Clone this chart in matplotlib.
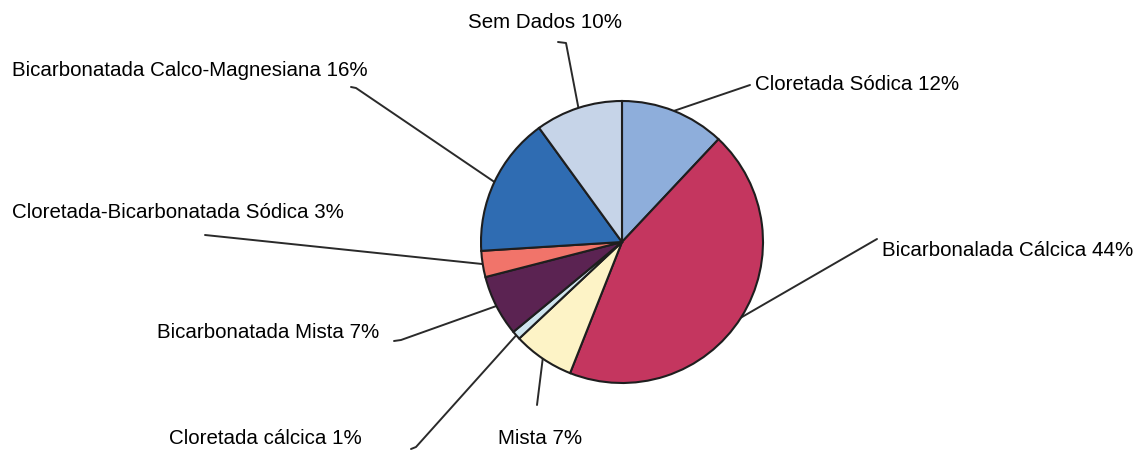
import numpy as np
import matplotlib.pyplot as plt

# water type shares (percent), clockwise from 12 o'clock
categories = [
    "Cloretada Sódica",
    "Bicarbonalada Cálcica",
    "Mista",
    "Cloretada cálcica",
    "Bicarbonatada Mista",
    "Cloretada-Bicarbonatada Sódica",
    "Bicarbonatada Calco-Magnesiana",
    "Sem Dados",
]
values = [12, 44, 7, 1, 7, 3, 16, 10]
colors = ["#8eaedb", "#c4365f", "#fdf3c6", "#cfe5ee",
          "#5b2352", "#f1746a", "#2f6cb2", "#c6d4e8"]

W, H = 1146, 451
CX, CY, R = 622, 242, 141

# label layout in pixel coords: text anchor, alignment, leader path end points
label_layout = [
    dict(xy=(755, 85), ha="left", path=[(750, 85)]),
    dict(xy=(882, 250), ha="left", path=[(877, 239)]),
    dict(xy=(540, 438), ha="center", path=[(537, 405)]),
    dict(xy=(265, 438), ha="center", path=[(416, 447), (411, 449)]),
    dict(xy=(379, 333), ha="right", path=[(401, 340), (394, 341)]),
    dict(xy=(12, 213), ha="left", path=[(205, 235)]),
    dict(xy=(12, 70), ha="left", path=[(356, 88), (351, 87)]),
    dict(xy=(545, 22), ha="center", path=[(566, 43), (558, 42)]),
]

plt.rcParams["font.family"] = ["Liberation Sans", "DejaVu Sans"]

fig = plt.figure(figsize=(W / 100, H / 100), dpi=100)
ax = fig.add_axes([0, 0, 1, 1])

wedges, _ = ax.pie(
    values,
    colors=colors,
    startangle=90,
    counterclock=False,
    center=(CX, H - CY),
    radius=R,
    wedgeprops=dict(edgecolor="#1e1e1e", linewidth=1.5),
)

for w, name, val, lay in zip(wedges, categories, values, label_layout):
    mid = np.deg2rad((w.theta1 + w.theta2) / 2)
    x0 = CX + R * np.cos(mid)
    y0 = (H - CY) + R * np.sin(mid)
    xs = [x0] + [p[0] for p in lay["path"]]
    ys = [y0] + [H - p[1] for p in lay["path"]]
    ax.plot(xs, ys, color="#2a2a2a", lw=1.4, solid_capstyle="round", zorder=0)
    ax.text(lay["xy"][0], H - lay["xy"][1], f"{name} {val}%",
            ha=lay["ha"], va="center", fontsize=14.8, color="black")

ax.set_xlim(0, W)
ax.set_ylim(0, H)
ax.set_aspect("equal")
ax.axis("off")

fig.savefig("out.png", dpi=100, facecolor="white")
plt.close(fig)
